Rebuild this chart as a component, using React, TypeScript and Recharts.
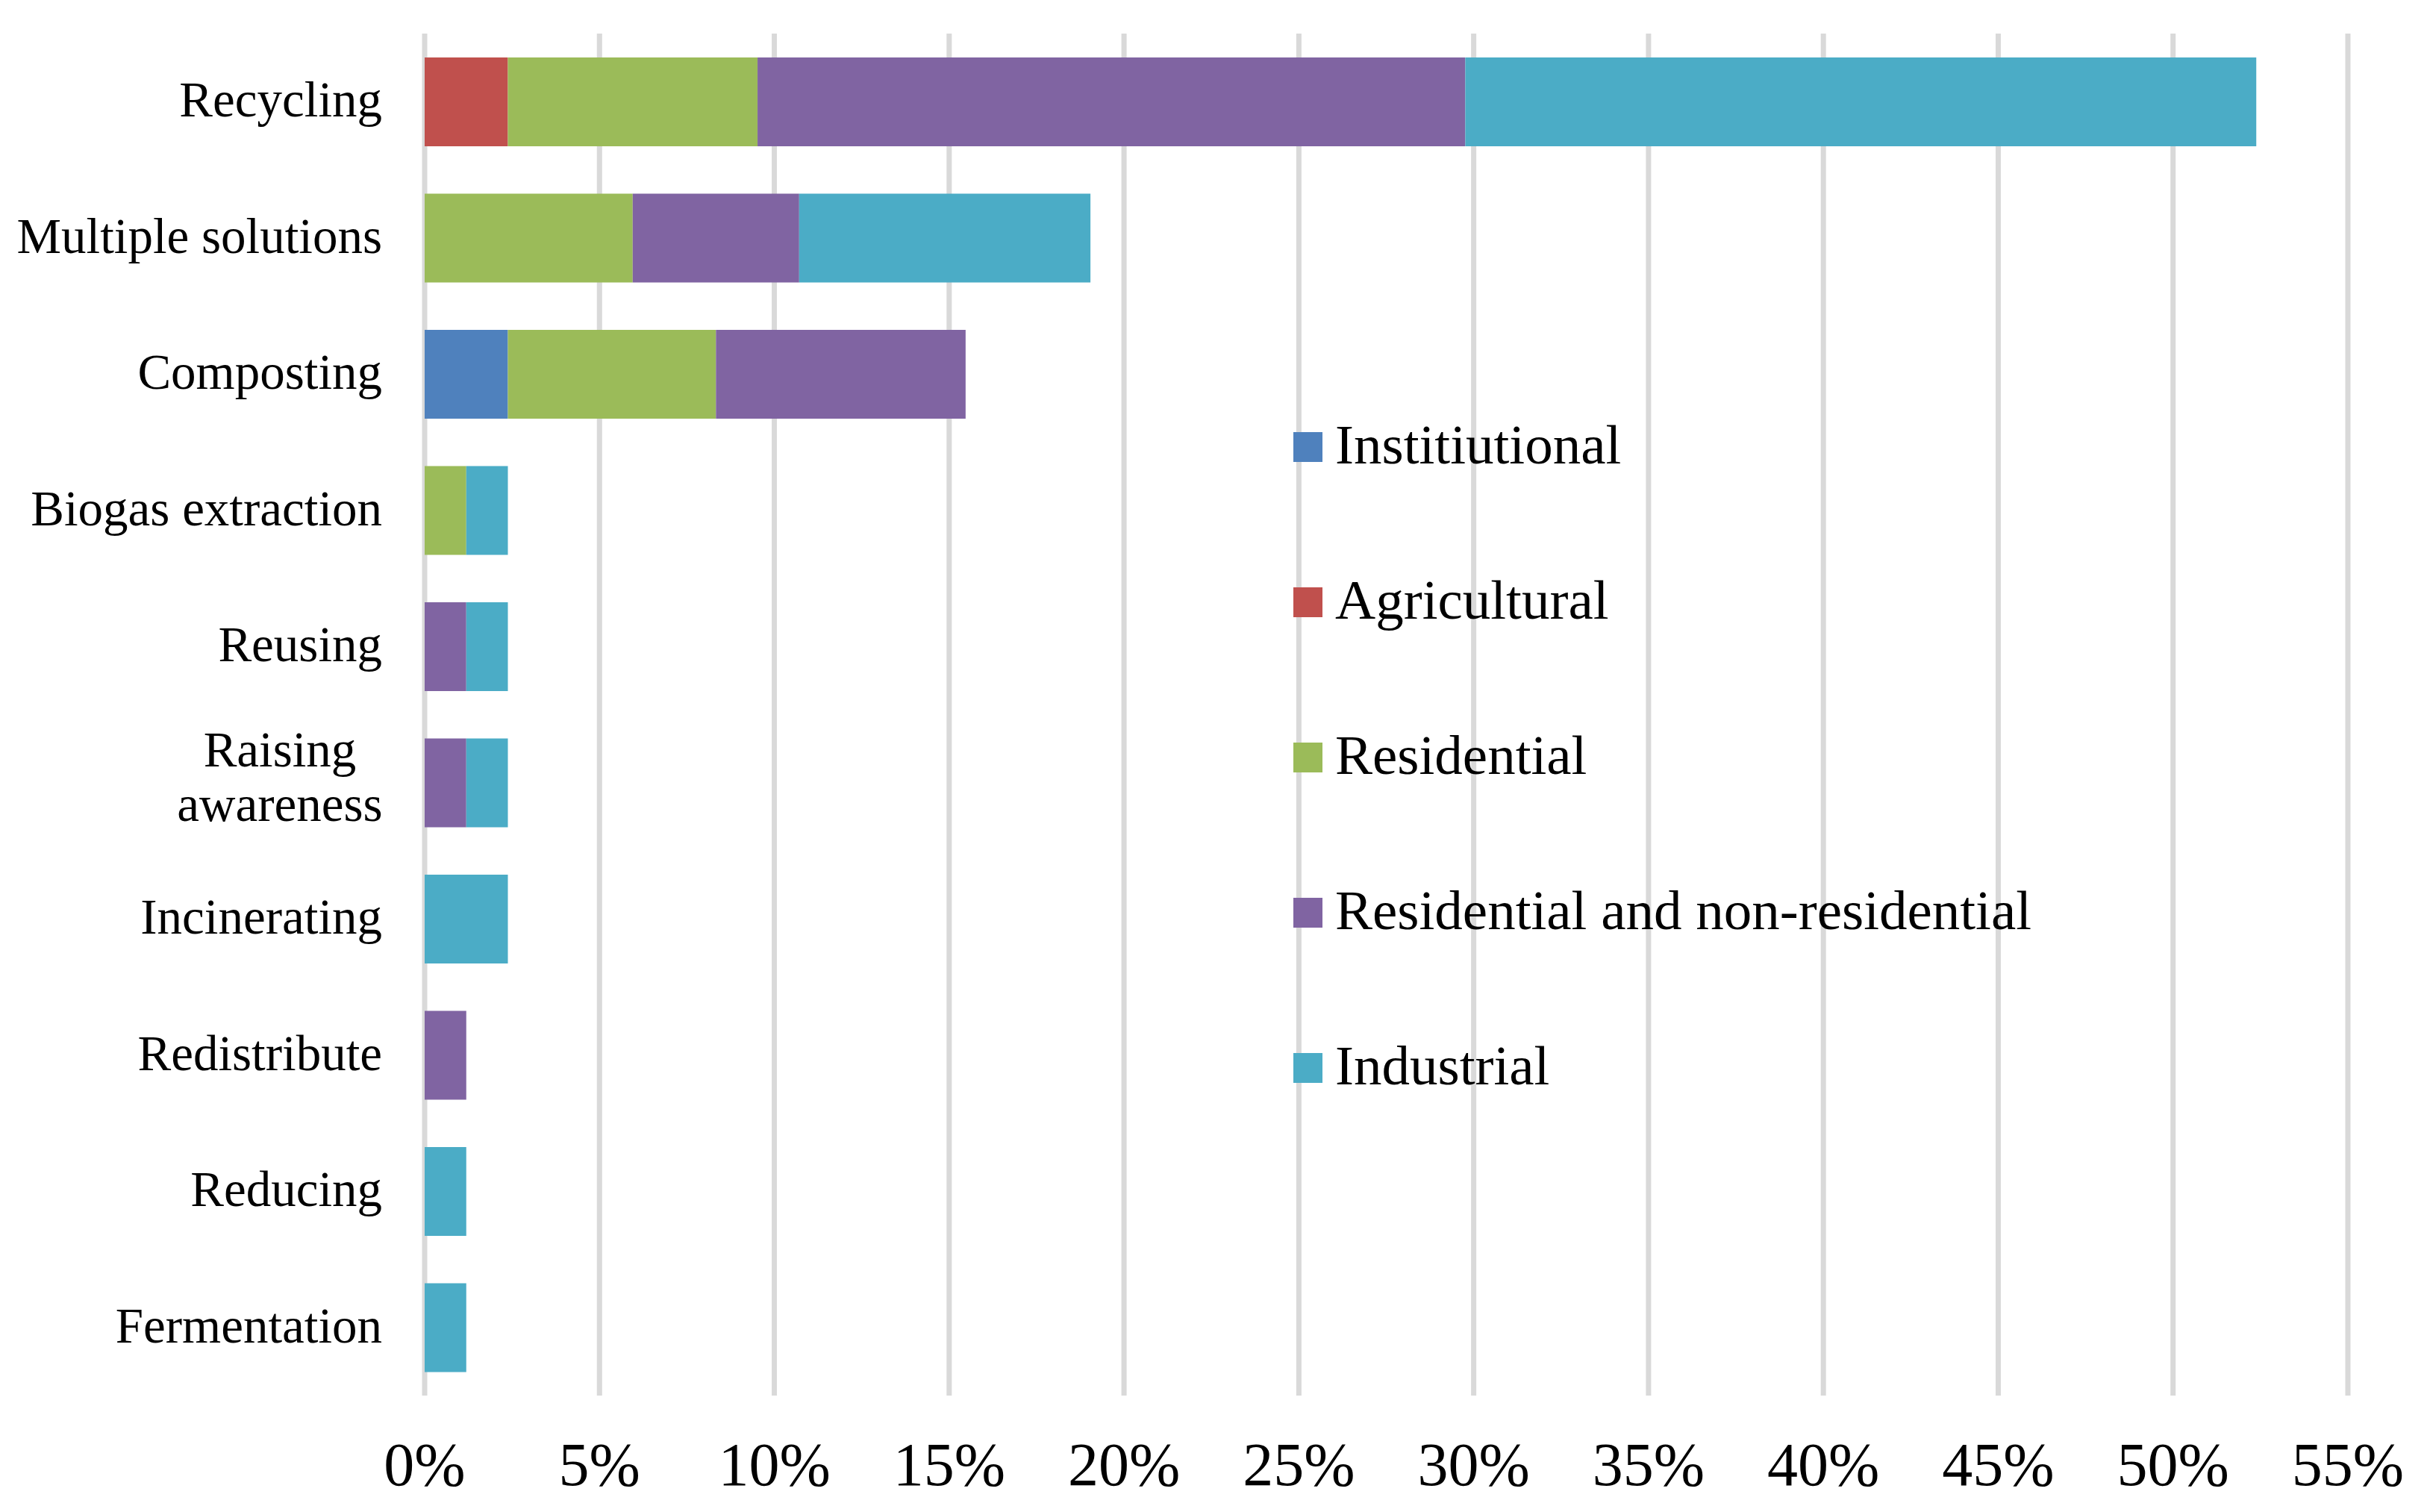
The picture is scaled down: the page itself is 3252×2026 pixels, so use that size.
import { BarChart, Bar, XAxis, YAxis, CartesianGrid, Legend } from 'recharts';

const categories = [
  'Recycling',
  'Multiple solutions',
  'Composting',
  'Biogas extraction',
  'Reusing',
  'Raising\nawareness',
  'Incinerating',
  'Redistribute',
  'Reducing',
  'Fermentation',
];

// share of cases, %
const institutional = [0, 0, 2.38, 0, 0, 0, 0, 0, 0, 0];
const agricultural = [2.38, 0, 0, 0, 0, 0, 0, 0, 0, 0];
const residential = [7.14, 5.95, 5.95, 1.19, 0, 0, 0, 0, 0, 0];
const resAndNonRes = [20.24, 4.76, 7.14, 0, 1.19, 1.19, 0, 1.19, 0, 0];
const industrial = [22.62, 8.33, 0, 1.19, 1.19, 1.19, 2.38, 0, 1.19, 1.19];

const xTicks = [0, 5, 10, 15, 20, 25, 30, 35, 40, 45, 50, 55];

const SERIES = [
  { key: 'institutional', name: 'Institiutional', color: '#4F81BD', values: institutional },
  { key: 'agricultural', name: 'Agricultural', color: '#C0504D', values: agricultural },
  { key: 'residential', name: 'Residential', color: '#9BBB59', values: residential },
  { key: 'resAndNonRes', name: 'Residential and non-residential', color: '#8064A2', values: resAndNonRes },
  { key: 'industrial', name: 'Industrial', color: '#4BACC6', values: industrial },
];

const FONT = '"Liberation Serif", "Times New Roman", serif';

const chartData = categories.map((name, i) => {
  const row: Record<string, number | string> = { name };
  SERIES.forEach((s) => {
    row[s.key] = s.values[i];
  });
  return row;
});

function CategoryTick({ x, y, payload }: any) {
  const lines = String(payload.value).split('\n');
  if (lines.length === 1) {
    return (
      <text x={x} y={y} dy="0.3em" textAnchor="end" fontSize={67} fontFamily={FONT} fill="#000">
        {lines[0]}
      </text>
    );
  }
  // wrapped labels are centred on their widest line, like Excel does
  return (
    <text x={x - 137} y={y} textAnchor="middle" fontSize={67} fontFamily={FONT} fill="#000">
      <tspan x={x - 137} dy="-0.33em">{lines[0]}</tspan>
      <tspan x={x - 137} dy="1.09em">{lines[1]}</tspan>
    </text>
  );
}

function LegendBox() {
  return (
    <div style={{ fontFamily: FONT }}>
      {SERIES.map((s) => (
        <div key={s.key} style={{ height: 208, display: 'flex', alignItems: 'center', whiteSpace: 'nowrap' }}>
          <span style={{ width: 39, height: 40, backgroundColor: s.color, display: 'inline-block', marginRight: 17, marginTop: 6 }} />
          <span style={{ fontSize: 75, color: '#000', lineHeight: 1.1 }}>{s.name}</span>
        </div>
      ))}
    </div>
  );
}

export default function App() {
  return (
    <div style={{ position: 'absolute', left: 0, top: 0, background: '#fff' }}>
      <BarChart
        width={3252}
        height={2026}
        data={chartData}
        layout="vertical"
        margin={{ top: 45, right: 106, bottom: 0, left: 0 }}
        barSize={119}
      >
        <CartesianGrid horizontal={false} stroke="#D9D9D9" strokeWidth={7} />
        <XAxis
          type="number"
          domain={[0, 55]}
          ticks={xTicks}
          tickFormatter={(v) => `${v}%`}
          axisLine={false}
          tickLine={false}
          tickSize={0}
          tickMargin={62}
          height={156}
          interval={0}
          tick={{ fontSize: 82, fontFamily: FONT, fill: '#000' }}
        />
        <YAxis
          type="category"
          dataKey="name"
          width={569}
          axisLine={false}
          tickLine={false}
          tickSize={0}
          tickMargin={57}
          interval={0}
          tick={<CategoryTick />}
        />
        <Legend
          layout="vertical"
          align="center"
          verticalAlign="middle"
          content={<LegendBox />}
          wrapperStyle={{ left: 1733, top: 492, width: 'auto' }}
        />
        {SERIES.map((s) => (
          <Bar key={s.key} dataKey={s.key} name={s.name} stackId="a" fill={s.color} isAnimationActive={false} />
        ))}
      </BarChart>
    </div>
  );
}
